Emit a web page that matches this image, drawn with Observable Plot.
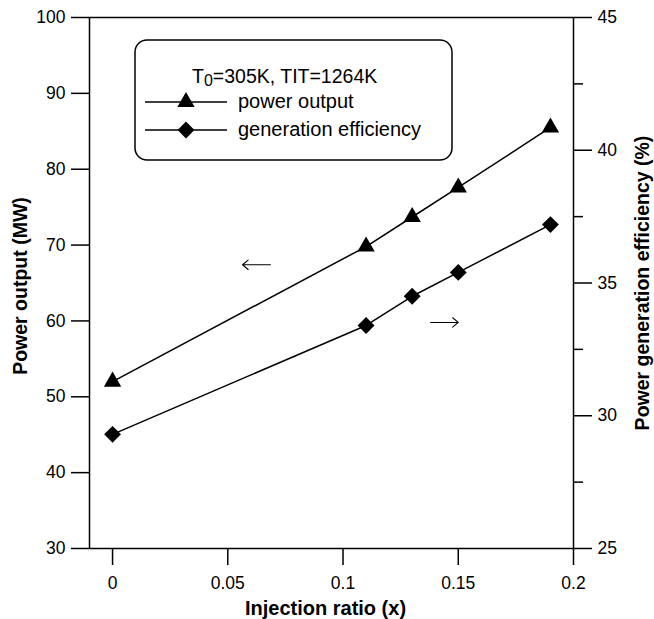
<!DOCTYPE html>
<html>
<head>
<meta charset="utf-8">
<script src="https://cdn.jsdelivr.net/npm/d3@7"></script>
<script src="https://cdn.jsdelivr.net/npm/@observablehq/plot@0.6"></script>
<style>
  html, body { margin: 0; padding: 0; background: #fff; }
</style>
</head>
<body>
<div id="chart"></div>
<script>
// ---- data ----
const injectionRatio = [0, 0.11, 0.13, 0.15, 0.19];
const powerOutput = [52.0, 69.8, 73.7, 77.6, 85.5];          // MW (left axis)
const generationEfficiency = [29.3, 33.4, 34.5, 35.4, 37.2]; // % (right axis)

const xTicks = [0, 0.05, 0.1, 0.15, 0.2];
const leftTicks = [30, 40, 50, 60, 70, 80, 90, 100];
const rightTicks = [25, 30, 35, 40, 45];
const rightMinorTicks = [27.5, 32.5, 37.5, 42.5];

const legendTitle = ["T", "0", "=305K, TIT=1264K"];
const legendLabels = ["power output", "generation efficiency"];

// annotation arrows (data space): left arrow -> power, right arrow -> efficiency
const arrowTailX = [0.0685, 0.138];
const arrowHeadX = [0.0564, 0.150];
const arrowY = [67.4, 59.8];

// right axis (efficiency %) mapped onto the left axis (MW): 25..45 -> 30..100
const effToP = e => 30 + (e - 25) * 3.5;

const rows = injectionRatio.map((x, i) => ({
  x, power: powerOutput[i], eff: effToP(generationEfficiency[i])
}));
const arrows = arrowTailX.map((x1, i) => ({x1, x2: arrowHeadX[i], y: arrowY[i]}));

const FONT = "'Liberation Sans', Arial, Helvetica, sans-serif";
const rTri = 6.45;   // triangle
const rDia = 7.6;    // diamond2

const chart = Plot.plot({
  width: 654,
  height: 619,
  marginLeft: 89,
  marginRight: 81,
  marginTop: 17,
  marginBottom: 71,
  style: {fontFamily: FONT, fontSize: "17.5px", background: "#fff", color: "#000"},
  x: {domain: [-0.01, 0.2]},
  y: {domain: [30, 100]},
  marks: [
    Plot.frame({stroke: "#000", strokeWidth: 1.5}),
    Plot.axisX(xTicks, {anchor: "bottom", tickSize: 17, tickPadding: 11, strokeWidth: 1.5,
      fontSize: 17.5, tickFormat: d => String(d), label: null}),
    Plot.axisY(leftTicks, {anchor: "left", tickSize: 18, tickPadding: 6, strokeWidth: 1.5,
      fontSize: 17.5, tickFormat: d => String(d), label: null}),
    Plot.axisY(rightTicks.map(effToP), {anchor: "right", tickSize: 18, tickPadding: 6, strokeWidth: 1.5,
      fontSize: 17.5, tickFormat: (d, i) => String(rightTicks[i]), label: null}),
    Plot.axisY(rightMinorTicks.map(effToP), {anchor: "right", tickSize: 9, strokeWidth: 1.5,
      tickFormat: () => "", label: null}),
    Plot.line(rows, {x: "x", y: "power", stroke: "#000", strokeWidth: 1.5}),
    Plot.line(rows, {x: "x", y: "eff", stroke: "#000", strokeWidth: 1.5}),
    Plot.dot(rows, {x: "x", y: "power", symbol: "triangle", r: rTri, fill: "#000", stroke: "none"}),
    Plot.dot(rows, {x: "x", y: "eff", symbol: "diamond2", r: rDia, fill: "#000", stroke: "none"}),
    Plot.arrow(arrows, {x1: "x1", x2: "x2", y1: "y", y2: "y", stroke: "#000", strokeWidth: 1.1,
      headLength: 10, headAngle: 80}),
    Plot.text(["Injection ratio (x)"], {frameAnchor: "bottom", dx: -6, dy: 60, lineAnchor: "middle",
      textAnchor: "middle", fontWeight: "bold", fontSize: 20, fill: "#000"}),
    Plot.text(["Power output (MW)"], {frameAnchor: "left", dx: -69, dy: 3, rotate: -90, lineAnchor: "middle",
      textAnchor: "middle", fontWeight: "bold", fontSize: 19.5, fill: "#000"}),
    Plot.text(["Power generation efficiency (%)"], {frameAnchor: "right", dx: 69, rotate: -90, lineAnchor: "middle",
      textAnchor: "middle", fontWeight: "bold", fontSize: 19.5, fill: "#000"})
  ]
});

// ---- legend (inside the plot, top left) ----
const svg = d3.select(chart);
const lg = svg.append("g").attr("font-family", FONT).attr("fill", "#000").attr("text-anchor", "start");
lg.append("rect").attr("x", 135).attr("y", 40).attr("width", 317).attr("height", 120)
  .attr("rx", 12).attr("fill", "#fff").attr("stroke", "#000").attr("stroke-width", 1.5);

const t = lg.append("text").attr("x", 192).attr("y", 83).attr("font-size", 19.5).attr("text-anchor", "start");
t.append("tspan").text(legendTitle[0]);
t.append("tspan").attr("font-size", 16).attr("dy", 3).text(legendTitle[1]);
t.append("tspan").attr("dy", -3).text(legendTitle[2]);

const items = [
  {label: legendLabels[0], y: 102, sym: d3.symbolTriangle, r: rTri},
  {label: legendLabels[1], y: 130, sym: d3.symbolDiamond2, r: rDia}
];
for (const it of items) {
  lg.append("line").attr("x1", 145).attr("x2", 227).attr("y1", it.y).attr("y2", it.y)
    .attr("stroke", "#000").attr("stroke-width", 1.5);
  lg.append("path").attr("transform", `translate(186,${it.y})`)
    .attr("d", d3.symbol(it.sym, it.r * it.r * Math.PI)()).attr("fill", "#000");
  lg.append("text").attr("x", 238).attr("y", it.y + 6).attr("font-size", 20)
    .attr("text-anchor", "start").text(it.label);
}

document.getElementById("chart").appendChild(chart);
</script>
</body>
</html>
